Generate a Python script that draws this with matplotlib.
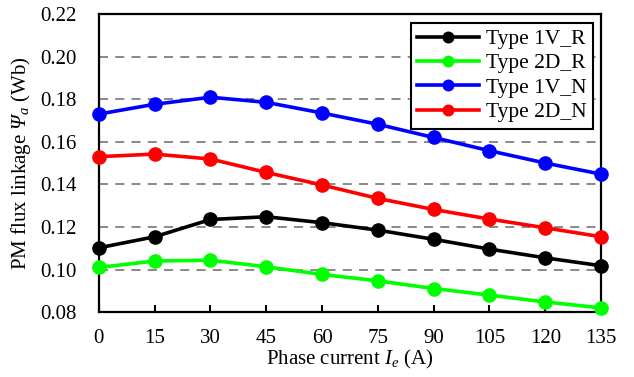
"""PM flux linkage against phase current for four rotor types."""

import matplotlib.pyplot as plt

current = [0, 15, 30, 45, 60, 75, 90, 105, 120, 135]

flux_1v_r = [0.1102, 0.1154, 0.1235, 0.1248, 0.1220, 0.1185, 0.1142, 0.1096, 0.1055, 0.1018]
flux_2d_r = [0.1010, 0.1040, 0.1044, 0.1013, 0.0977, 0.0947, 0.0911, 0.0880, 0.0848, 0.0820]
flux_1v_n = [0.1730, 0.1776, 0.1809, 0.1785, 0.1735, 0.1682, 0.1620, 0.1558, 0.1500, 0.1448]
flux_2d_n = [0.1530, 0.1542, 0.1519, 0.1456, 0.1397, 0.1334, 0.1282, 0.1237, 0.1196, 0.1154]

SERIES = [
    ("Type 1V_R", flux_1v_r, "#000000"),
    ("Type 2D_R", flux_2d_r, "#00ff00"),
    ("Type 1V_N", flux_1v_n, "#0000ff"),
    ("Type 2D_N", flux_2d_n, "#ff0000"),
]


def main() -> None:
    plt.rcParams["font.family"] = ["Liberation Serif", "DejaVu Serif"]
    plt.rcParams["mathtext.fontset"] = "custom"
    plt.rcParams["mathtext.rm"] = "Liberation Serif"
    plt.rcParams["mathtext.it"] = "Liberation Serif:italic"
    # mathtext keeps capital Greek upright in \mathit, so borrow \mathsf for italic Psi
    plt.rcParams["mathtext.sf"] = "Liberation Serif:italic"

    fig = plt.figure(figsize=(6.34, 3.77), dpi=100)
    axes = fig.add_axes([0.156, 0.172, 0.792, 0.791])

    for label, values, color in SERIES:
        axes.plot(current, values, color=color, linewidth=2.6, marker="o",
                  markersize=9.5, label=label, clip_on=False, zorder=3)

    axes.set_xlim(0, 135)
    axes.set_ylim(0.08, 0.22)
    axes.set_xticks(current)
    axes.set_yticks([0.08, 0.10, 0.12, 0.14, 0.16, 0.18, 0.20, 0.22])
    axes.set_yticklabels([f"{v:.2f}" for v in axes.get_yticks()])

    for y in [0.10, 0.12, 0.14, 0.16, 0.18, 0.20]:
        axes.axhline(y, color="#808080", linestyle=(0, (5, 4)), linewidth=1.3, zorder=1)

    for spine in axes.spines.values():
        spine.set_linewidth(1.6)
    axes.tick_params(axis="x", direction="in", length=5, width=1.5, pad=12, labelsize=15)
    axes.tick_params(axis="y", length=0, pad=16, labelsize=15)

    axes.set_xlabel("Phase current $I_e$ (A)", fontsize=15, labelpad=0)
    axes.set_ylabel(r"PM flux linkage $\mathsf{\Psi}_a$ (Wb)", fontsize=15, labelpad=5)

    legend = axes.legend(loc="upper right", bbox_to_anchor=(0.984, 0.971),
                         borderaxespad=0, fontsize=15.5, fancybox=False,
                         framealpha=1, edgecolor="black", handlelength=2.9,
                         handletextpad=0.3, labelspacing=0.2, borderpad=0.3,
                         markerscale=0.8)
    legend.get_frame().set_linewidth(1.5)

    fig.savefig("out.png", dpi=100)


if __name__ == "__main__":
    main()
